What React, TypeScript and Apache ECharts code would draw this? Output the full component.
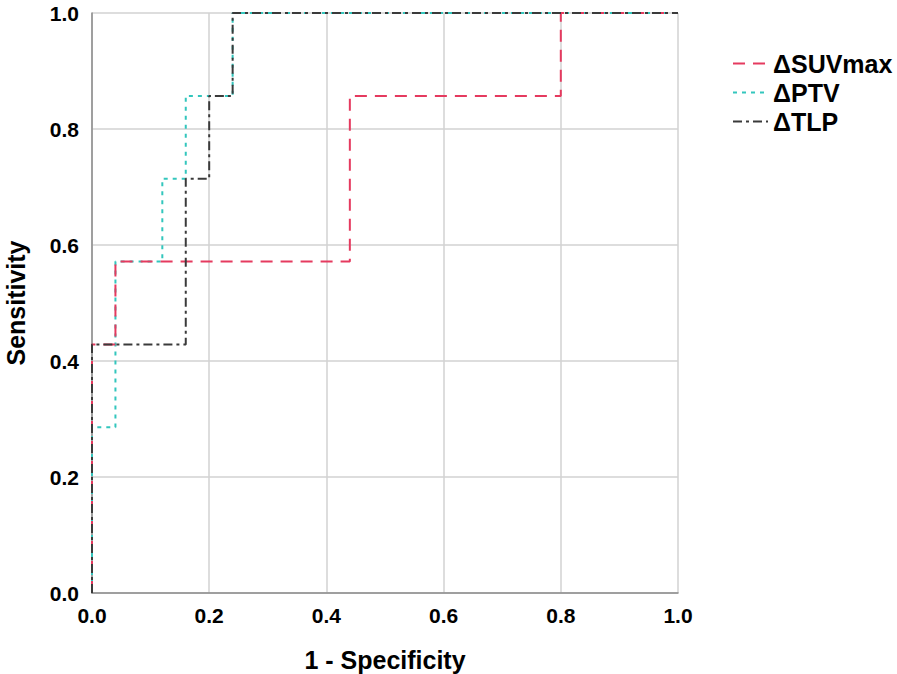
import React, { useEffect, useRef } from "react";
import * as echarts from "echarts";

const seriesNames = ["ΔSUVmax", "ΔPTV", "ΔTLP"];
const suvX = [0, 0, 0.04, 0.04, 0.44, 0.44, 0.8, 0.8, 1.0];
const suvY = [0, 0.4286, 0.4286, 0.5714, 0.5714, 0.8571, 0.8571, 1.0, 1.0];
const ptvX = [0, 0, 0.04, 0.04, 0.12, 0.12, 0.16, 0.16, 0.24, 0.24, 1.0];
const ptvY = [0, 0.2857, 0.2857, 0.5714, 0.5714, 0.7143, 0.7143, 0.8571, 0.8571, 1.0, 1.0];
const tlpX = [0, 0, 0.16, 0.16, 0.2, 0.2, 0.24, 0.24, 1.0];
const tlpY = [0, 0.4286, 0.4286, 0.7143, 0.7143, 0.8571, 0.8571, 1.0, 1.0];
const tickValues = [0, 0.2, 0.4, 0.6, 0.8, 1.0];

const zip = (xs: number[], ys: number[]) => xs.map((x, i) => [x, ys[i]]);

export default function App() {
  const ref = useRef<HTMLDivElement>(null);
  useEffect(() => {
    document.body.style.margin = "0";
    document.body.style.overflow = "hidden";
    const chart = echarts.init(ref.current!, null, { renderer: "svg" });
    const font = "'Liberation Sans', Arial, sans-serif";
    const axisCommon = {
      type: "value" as const,
      min: tickValues[0],
      max: tickValues[tickValues.length - 1],
      interval: 0.2,
      nameLocation: "middle" as const,
      nameTextStyle: { fontFamily: font, fontSize: 25, fontWeight: "bold", color: "#000" },
      axisLine: { show: true, lineStyle: { color: "#8a8a8a", width: 1.5 } },
      axisTick: { show: false },
      axisLabel: {
        fontFamily: font,
        fontSize: 21,
        fontWeight: "bold",
        color: "#000",
        formatter: (v: number) => v.toFixed(1),
      },
      splitLine: { show: true, lineStyle: { color: "#d2d2d2", width: 1.5 } },
    };
    chart.setOption({
      animation: false,
      backgroundColor: "#fff",
      grid: {
        left: 92,
        top: 13,
        width: 586,
        height: 580,
        containLabel: false,
        outerBoundsMode: "none",
      },
      legend: {
        orient: "vertical",
        left: 727,
        top: 46,
        itemWidth: 35,
        itemHeight: 14,
        itemGap: 4,
        itemStyle: { opacity: 0 },
        textStyle: { fontFamily: font, fontSize: 25, fontWeight: "bold", color: "#000" },
        data: seriesNames,
      },
      xAxis: {
        ...axisCommon,
        name: "1 - Specificity",
        nameGap: 54,
        axisLabel: { ...axisCommon.axisLabel, margin: 12 },
      },
      yAxis: {
        ...axisCommon,
        name: "Sensitivity",
        nameGap: 64,
        axisLabel: { ...axisCommon.axisLabel, margin: 13 },
      },
      series: [
        {
          name: seriesNames[1],
          type: "line",
          data: zip(ptvX, ptvY),
          showSymbol: false,
          symbol: "none",
          itemStyle: { color: "#33c6bd" },
          lineStyle: { color: "#33c6bd", width: 2, type: [4, 5] },
          z: 2,
        },
        {
          name: seriesNames[0],
          type: "line",
          data: zip(suvX, suvY),
          showSymbol: false,
          symbol: "none",
          itemStyle: { color: "#e53a5f" },
          lineStyle: { color: "#e53a5f", width: 2, type: [12, 8] },
          z: 3,
        },
        {
          name: seriesNames[2],
          type: "line",
          data: zip(tlpX, tlpY),
          showSymbol: false,
          symbol: "none",
          itemStyle: { color: "#3a3a3a" },
          lineStyle: { color: "#3a3a3a", width: 2, type: [9, 4, 3, 4] },
          z: 4,
        },
      ],
    });
    return () => chart.dispose();
  }, []);
  return (
    <div
      ref={ref}
      style={{ position: "fixed", left: 0, top: 0, width: 897, height: 674 }}
    />
  );
}
